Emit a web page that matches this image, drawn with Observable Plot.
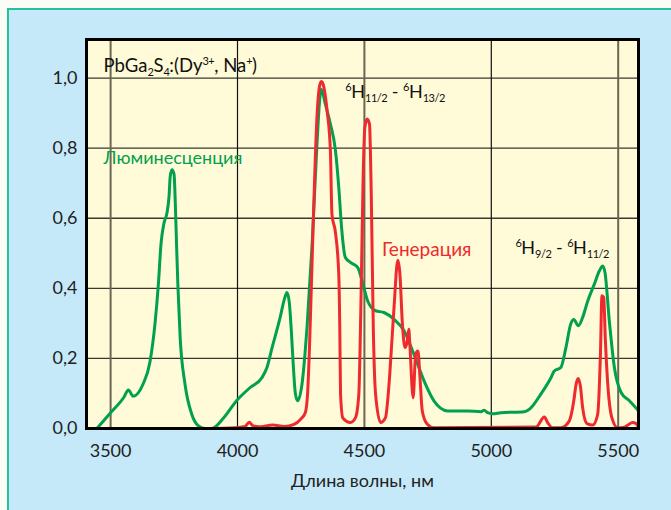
<!DOCTYPE html>
<html>
<head>
<meta charset="utf-8">
<script src="https://cdn.jsdelivr.net/npm/d3@7"></script>
<script src="https://cdn.jsdelivr.net/npm/@observablehq/plot@0.6"></script>
<style>
  html, body { margin: 0; padding: 0; background: #fcfcf6; }
  #wrap { position: relative; width: 671px; height: 510px; overflow: hidden; }
  #box { position: absolute; left: 7px; top: 8px; width: 664px; height: 502px;
         background: #c6e9f9; border-top: 2px solid #26c198; border-left: 2px solid #26c198; box-sizing: border-box; }
  #chart { position: absolute; left: 0; top: 0; }
</style>
</head>
<body>
<div id="wrap"><div id="box"></div><div id="chart"></div></div>
<script>
// Luminescence (green)
const lumWave = [3446,3500,3553,3570,3589,3628,3655,3675,3688,3699,3710,3722,3730,3735,3742,3750,3755,3760,3765,3774,3793,3820,3845,3870,3899,3945,3997,4050,4096,4116,4136,4169,4185,4195,4204,4212,4219,4228,4237,4254,4274,4294,4313,4324,4330,4346,4366,4386,4399,4410,4425,4445,4474,4491,4513,4544,4577,4616,4656,4695,4735,4774,4800,4827,4906,4959,4972,4985,5005,5038,5130,5156,5195,5235,5248,5274,5294,5313,5325,5343,5360,5380,5406,5426,5439,5448,5465,5485,5512,5544,5578];
const lumValue = [0.0,0.045,0.09,0.11,0.092,0.127,0.19,0.30,0.41,0.53,0.585,0.615,0.66,0.72,0.738,0.725,0.64,0.52,0.41,0.26,0.127,0.04,0.008,0.0,0.0,0.03,0.08,0.117,0.145,0.174,0.23,0.32,0.37,0.388,0.36,0.28,0.19,0.10,0.079,0.126,0.29,0.526,0.81,0.94,0.968,0.926,0.869,0.793,0.688,0.574,0.488,0.474,0.459,0.421,0.364,0.336,0.331,0.312,0.279,0.212,0.136,0.079,0.058,0.05,0.05,0.048,0.052,0.045,0.042,0.045,0.048,0.059,0.098,0.145,0.164,0.174,0.231,0.298,0.311,0.293,0.317,0.364,0.412,0.45,0.464,0.445,0.307,0.174,0.102,0.079,0.052];

// Generation (red)
const genWave = [3880,3990,4030,4046,4060,4085,4139,4184,4223,4248,4267,4276,4284,4294,4304,4313,4324,4331,4340,4353,4366,4372,4386,4399,4403,4406,4415,4445,4465,4478,4487,4495,4502,4511,4520,4527,4535,4544,4564,4583,4596,4610,4620,4627,4632,4640,4649,4660,4669,4675,4679,4692,4702,4711,4719,4728,4748,4774,5176,5209,5222,5241,5274,5307,5325,5334,5342,5351,5360,5377,5400,5419,5430,5436,5443,5449,5458,5475,5498,5524,5557,5570,5578];
const genValue = [0.0,0.002,0.006,0.018,0.008,0.005,0.01,0.006,0.012,0.026,0.045,0.098,0.24,0.48,0.717,0.888,0.979,0.99,0.975,0.907,0.793,0.612,0.559,0.44,0.288,0.098,0.03,0.017,0.031,0.098,0.383,0.717,0.86,0.883,0.869,0.669,0.288,0.098,0.017,0.031,0.117,0.269,0.383,0.459,0.48,0.44,0.307,0.231,0.25,0.283,0.24,0.088,0.212,0.221,0.145,0.05,0.012,0.002,0.004,0.033,0.017,0.002,0.002,0.021,0.079,0.126,0.143,0.121,0.059,0.014,0.01,0.04,0.212,0.379,0.374,0.26,0.136,0.031,0.002,0.004,0.017,0.014,0.007];

const xTicks = [3500, 4000, 4500, 5000, 5500];
const yTicks = [0, 0.2, 0.4, 0.6, 0.8, 1.0];
const xLabel = "Длина волны, нм";
const titleText = "PbGa2S4:(Dy3+, Na+)";
const lumLabel = "Люминесценция";
const genLabel = "Генерация";
const trans1 = "6H11/2 - 6H13/2";
const trans2 = "6H9/2 - 6H11/2";

const lum = lumWave.map((w, i) => ({w, v: lumValue[i]}));
const gen = genWave.map((w, i) => ({w, v: genValue[i]}));

const green = "#00a04f";
const red = "#ee2a2e";

const plot = Plot.plot({
  width: 671,
  height: 510,
  marginLeft: 86,
  marginRight: 33,
  marginTop: 39,
  marginBottom: 82,
  style: {background: "transparent", fontFamily: "Lato, 'DejaVu Sans', sans-serif", fontSize: "18px", color: "#222"},
  x: {domain: [3405, 5580]},
  y: {domain: [0, 1.11]},
  marks: [
    Plot.frame({fill: "#fffad7", stroke: null}),
    Plot.ruleY(yTicks.filter(d => d > 0), {stroke: "#3a3a30", strokeWidth: 1.3}),
    Plot.ruleX([3500, 4500, 5500], {stroke: "#6d6652", strokeWidth: 2}),
    Plot.ruleX([4000, 5000], {stroke: "#111", strokeWidth: 1.2}),
    Plot.line(lum, {x: "w", y: "v", stroke: green, strokeWidth: 3, curve: "monotone-x"}),
    Plot.line(gen, {x: "w", y: "v", stroke: red, strokeWidth: 3, curve: "monotone-x"}),
    Plot.frame({stroke: "#000", strokeWidth: 3}),
    Plot.axisX({ticks: xTicks, tickSize: 0, tickPadding: 16, label: null, tickFormat: d => String(d)}),
    Plot.axisY({ticks: yTicks, tickSize: 0, tickPadding: 9, label: null, tickFormat: d => d.toFixed(1).replace(".", ",")}),
    Plot.text([xLabel], {frameAnchor: "bottom", dy: 58, fontSize: 18, fill: "#222"}),
    Plot.text([{x: 3472, y: 1.033, t: titleText}], {x: "x", y: "y", text: "t", textAnchor: "start", fontSize: 18.5, fill: "#111"}),
    Plot.text([{x: 3472, y: 0.772, t: lumLabel}], {x: "x", y: "y", text: "t", textAnchor: "start", fontSize: 18, fill: green}),
    Plot.text([{x: 4569, y: 0.511, t: genLabel}], {x: "x", y: "y", text: "t", textAnchor: "start", fontSize: 19, fill: red}),
    Plot.text([{x: 4425, y: 0.959, t: trans1}], {x: "x", y: "y", text: "t", textAnchor: "start", fontSize: 18, fill: "#111"}),
    Plot.text([{x: 5095, y: 0.514, t: trans2}], {x: "x", y: "y", text: "t", textAnchor: "start", fontSize: 18, fill: "#111"})
  ]
});

function rich(svg, plain, parts, small) {
  d3.select(svg).selectAll("text").filter(function() { return this.textContent === plain; }).each(function() {
    const t = d3.select(this);
    t.selectAll("*").remove();
    t.text(null);
    let shift = 0;
    for (const [s, k] of parts) {
      const target = k === "sub" ? 4 : k === "sup" ? -7 : 0;
      const ts = t.append("tspan").text(s).attr("dy", target - shift);
      if (k) ts.attr("font-size", small).attr("letter-spacing", "-0.5");
      shift = target;
    }
  });
}

rich(plot, titleText, [["PbGa"],["2","sub"],["S"],["4","sub"],[":(Dy"],["3+","sup"],[", Na"],["+","sup"],[")"]], "11px");
rich(plot, trans1, [["6","sup"],["H"],["11/2","sub"],[" - "],["6","sup"],["H"],["13/2","sub"]], "11px");
rich(plot, trans2, [["6","sup"],["H"],["9/2","sub"],[" - "],["6","sup"],["H"],["11/2","sub"]], "11px");

document.getElementById("chart").appendChild(plot);
</script>
</body>
</html>
